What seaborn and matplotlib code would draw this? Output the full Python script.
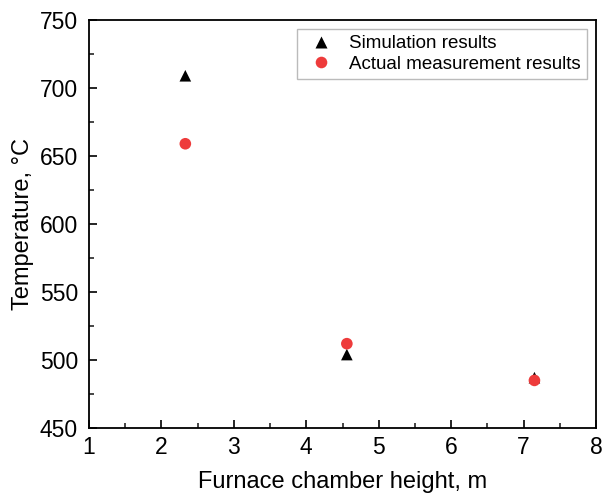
import matplotlib
matplotlib.use("Agg")
import matplotlib.pyplot as plt
import seaborn as sns
import pandas as pd
from matplotlib.ticker import MultipleLocator

heights = [2.33, 4.56, 7.15]
simulation = [709, 504, 487]
measured = [659, 512, 485]
series_names = ["Simulation results", "Actual measurement results"]

df = pd.DataFrame({
    "height": heights * 2,
    "temp": simulation + measured,
    "series": [series_names[0]] * 3 + [series_names[1]] * 3,
})

sns.set_style("white")
plt.rcParams['font.family'] = ['Liberation Sans', 'DejaVu Sans']
plt.rcParams['text.color'] = 'black'
plt.rcParams['axes.labelcolor'] = 'black'

fig = plt.figure(figsize=(6.02, 4.95), dpi=100)
ax = fig.add_axes([89/602, 1-428/495, (596-89)/602, (428-20)/495])

sns.scatterplot(data=df, x="height", y="temp", hue="series", style="series",
                palette={series_names[0]: "black", series_names[1]: "#ee3b3b"},
                markers={series_names[0]: "^", series_names[1]: "o"},
                s=70, edgecolor="none", ax=ax, zorder=3)

ax.set_xlim(1, 8)
ax.set_ylim(450, 750)
ax.xaxis.set_major_locator(MultipleLocator(1))
ax.xaxis.set_minor_locator(MultipleLocator(0.5))
ax.yaxis.set_major_locator(MultipleLocator(50))
ax.yaxis.set_minor_locator(MultipleLocator(25))
ax.tick_params(which="major", direction="in", length=6, width=1.2, labelsize=16.5,
               bottom=True, left=True, top=False, right=False, colors="black")
ax.tick_params(which="minor", direction="in", length=3.5, width=1.2,
               bottom=True, left=True, top=False, right=False)
ax.tick_params(axis="x", pad=6)
ax.tick_params(axis="y", pad=8)
for sp in ax.spines.values():
    sp.set_visible(True)
    sp.set_color("black")
    sp.set_linewidth(1.3)

ax.set_xlabel("Furnace chamber height, m", fontsize=17, labelpad=8.5)
ax.set_ylabel("Temperature, °C", fontsize=17, labelpad=4)

leg = ax.legend(loc="upper right", fontsize=13.5, frameon=True, fancybox=False,
                edgecolor="#aaaaaa", borderaxespad=0.5, handletextpad=0.5,
                borderpad=0.3, labelspacing=0.2, markerscale=1.0)
leg.get_frame().set_linewidth(1.0)

fig.savefig("out.png", dpi=100)
